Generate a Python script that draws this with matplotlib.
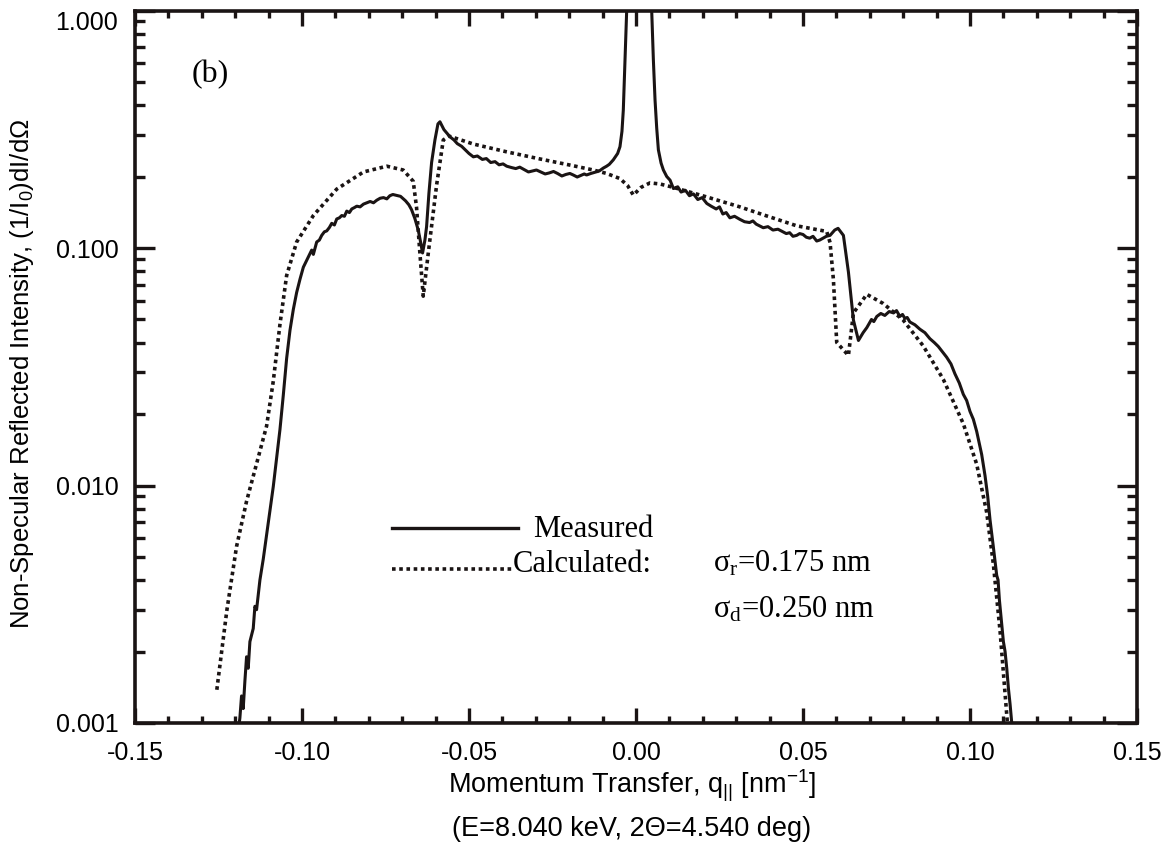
import matplotlib
matplotlib.use("Agg")
import matplotlib.pyplot as plt
from matplotlib.ticker import MultipleLocator, LogLocator, NullFormatter
from matplotlib.lines import Line2D

# measured non-specular intensity, (q, I) pairs
measured = [
    (-0.1192, 0.0009), (-0.1186, 0.00105), (-0.1181, 0.0013), (-0.1176, 0.00115), (-0.1171, 0.0015),
    (-0.1166, 0.0019), (-0.1161, 0.0017), (-0.1156, 0.0022), (-0.1146, 0.0025), (-0.1141, 0.0031),
    (-0.1136, 0.0030), (-0.1126, 0.0040), (-0.1116, 0.0049), (-0.1106, 0.0062), (-0.1096, 0.0078),
    (-0.1086, 0.0099), (-0.1076, 0.0130), (-0.1066, 0.0172), (-0.1056, 0.0240), (-0.1046, 0.0343),
    (-0.1036, 0.0450), (-0.1026, 0.0551), (-0.1016, 0.0650), (-0.1006, 0.0739), (-0.0996, 0.0830),
    (-0.0986, 0.0887), (-0.0976, 0.0950), (-0.0971, 0.0980), (-0.0966, 0.0940), (-0.0956, 0.106),
    (-0.0948, 0.108), (-0.0941, 0.113), (-0.0933, 0.117), (-0.0926, 0.118), (-0.0918, 0.122),
    (-0.0911, 0.127), (-0.0903, 0.125), (-0.0896, 0.1325), (-0.0888, 0.134), (-0.0881, 0.137),
    (-0.0873, 0.136), (-0.0866, 0.143), (-0.0858, 0.141), (-0.0851, 0.146), (-0.0843, 0.148),
    (-0.0836, 0.150), (-0.0826, 0.149), (-0.0816, 0.153), (-0.0806, 0.155), (-0.0796, 0.157),
    (-0.0786, 0.155), (-0.0776, 0.159), (-0.0766, 0.162), (-0.0756, 0.163), (-0.0746, 0.161),
    (-0.0737, 0.166), (-0.0728, 0.168), (-0.0720, 0.167), (-0.0705, 0.165), (-0.0690, 0.158),
    (-0.0680, 0.152), (-0.0672, 0.145), (-0.0662, 0.133), (-0.0652, 0.119), (-0.0645, 0.106),
    (-0.0639, 0.0953), (-0.0632, 0.108), (-0.0627, 0.123), (-0.0620, 0.170), (-0.0612, 0.229),
    (-0.0602, 0.285), (-0.0593, 0.333), (-0.0587, 0.340), (-0.0575, 0.315), (-0.0557, 0.294),
    (-0.0545, 0.285), (-0.0535, 0.275), (-0.0522, 0.268), (-0.0510, 0.258), (-0.0500, 0.250),
    (-0.0487, 0.242), (-0.0475, 0.244), (-0.0460, 0.236), (-0.0448, 0.238), (-0.0435, 0.229),
    (-0.0422, 0.231), (-0.0410, 0.224), (-0.0398, 0.226), (-0.0387, 0.221), (-0.0372, 0.218),
    (-0.0360, 0.216), (-0.0348, 0.219), (-0.0335, 0.214), (-0.0322, 0.209), (-0.0310, 0.211),
    (-0.0298, 0.213), (-0.0287, 0.2095), (-0.0272, 0.205), (-0.0260, 0.207), (-0.0247, 0.210),
    (-0.0235, 0.206), (-0.0222, 0.201), (-0.0210, 0.204), (-0.0198, 0.206), (-0.0188, 0.203),
    (-0.0176, 0.199), (-0.0165, 0.202), (-0.0155, 0.205), (-0.0148, 0.203), (-0.0135, 0.206),
    (-0.0125, 0.208), (-0.0110, 0.211), (-0.0098, 0.217), (-0.0088, 0.221), (-0.0080, 0.225),
    (-0.0068, 0.235), (-0.0055, 0.250), (-0.0048, 0.267), (-0.0042, 0.31), (-0.0038, 0.381),
    (-0.0033, 0.62), (-0.0028, 1.0), (-0.0020, 2.0), (0.0007, 5.0), (0.0035, 2.0),
    (0.0047, 1.0), (0.0052, 0.62), (0.0057, 0.42), (0.0062, 0.32), (0.0067, 0.259),
    (0.0075, 0.228), (0.0082, 0.213), (0.0092, 0.200), (0.0102, 0.193), (0.0112, 0.178),
    (0.0125, 0.181), (0.0135, 0.172), (0.0148, 0.175), (0.0160, 0.166), (0.0172, 0.169),
    (0.0185, 0.160), (0.0198, 0.163), (0.0212, 0.154), (0.0225, 0.150), (0.0240, 0.146),
    (0.0250, 0.149), (0.0260, 0.139), (0.0270, 0.141), (0.0281, 0.134), (0.0295, 0.136),
    (0.0311, 0.132), (0.0325, 0.129), (0.0340, 0.128), (0.0350, 0.130), (0.0360, 0.126),
    (0.0370, 0.124), (0.0381, 0.1217), (0.0395, 0.123), (0.0410, 0.119), (0.0425, 0.120),
    (0.0440, 0.117), (0.0450, 0.115), (0.0460, 0.116), (0.0470, 0.112), (0.0481, 0.113),
    (0.0490, 0.115), (0.0500, 0.114), (0.0510, 0.111), (0.0520, 0.110), (0.0530, 0.112),
    (0.0541, 0.107), (0.0550, 0.108), (0.0560, 0.110), (0.0570, 0.112), (0.0581, 0.113),
    (0.0595, 0.119), (0.0605, 0.121), (0.0621, 0.113), (0.0636, 0.0792), (0.0651, 0.0497),
    (0.0666, 0.0408), (0.0680, 0.0440), (0.0691, 0.0462), (0.0705, 0.0500), (0.0712, 0.0490),
    (0.0721, 0.0515), (0.0733, 0.0530), (0.0745, 0.0520), (0.0758, 0.0540), (0.0771, 0.0533),
    (0.0780, 0.0545), (0.0790, 0.0515), (0.0798, 0.0525), (0.0805, 0.0505), (0.0812, 0.0510),
    (0.0820, 0.0488), (0.0835, 0.0475), (0.0850, 0.0455), (0.0865, 0.0440), (0.0880, 0.0415),
    (0.0893, 0.0400), (0.0905, 0.0385), (0.0918, 0.0365), (0.0930, 0.0347), (0.0943, 0.0325),
    (0.0955, 0.0295), (0.0968, 0.0270), (0.0980, 0.0242), (0.0990, 0.0228), (0.1000, 0.0205),
    (0.1010, 0.0190), (0.1020, 0.0169), (0.1028, 0.0150), (0.1035, 0.0135), (0.1045, 0.0110),
    (0.1053, 0.0090), (0.1060, 0.00716), (0.1070, 0.0055), (0.1080, 0.00418), (0.1084, 0.0040),
    (0.1088, 0.0033), (0.1095, 0.00262), (0.1100, 0.0022), (0.1105, 0.0020), (0.1110, 0.0017),
    (0.1115, 0.0014), (0.1120, 0.0012), (0.1125, 0.0010), (0.1130, 0.0008),
]

# calculated curve (sigma_r = 0.175 nm, sigma_d = 0.250 nm)
calculated = [
    (-0.1255, 0.00138), (-0.1225, 0.00298), (-0.1196, 0.00553), (-0.1166, 0.00858), (-0.1136, 0.01235),
    (-0.1106, 0.0178), (-0.1086, 0.0275), (-0.1066, 0.0477), (-0.1046, 0.0766), (-0.1016, 0.106),
    (-0.0966, 0.137), (-0.0896, 0.177), (-0.0816, 0.209), (-0.0746, 0.221), (-0.0697, 0.213),
    (-0.0667, 0.191), (-0.0657, 0.148), (-0.0647, 0.095), (-0.0637, 0.0627), (-0.0622, 0.095),
    (-0.0597, 0.184), (-0.0577, 0.285), (-0.0560, 0.296), (-0.0547, 0.292), (-0.0487, 0.274),
    (-0.0387, 0.254), (-0.0287, 0.237), (-0.0188, 0.222), (-0.0128, 0.213), (-0.0088, 0.206),
    (-0.0048, 0.196), (-0.0025, 0.183), (-0.0008, 0.167), (0.0015, 0.180), (0.0042, 0.188),
    (0.0072, 0.186), (0.0112, 0.180), (0.0212, 0.164), (0.0311, 0.149), (0.0381, 0.138),
    (0.0481, 0.124), (0.0571, 0.1174), (0.0581, 0.1055), (0.0591, 0.0737), (0.0601, 0.040),
    (0.0636, 0.0353), (0.0651, 0.0533), (0.0691, 0.0638), (0.0740, 0.0584), (0.0800, 0.0497),
    (0.0860, 0.0387), (0.0920, 0.028), (0.0980, 0.0182), (0.1020, 0.0123), (0.1050, 0.0077),
    (0.1070, 0.00466), (0.1090, 0.00244), (0.1105, 0.00133), (0.1112, 0.00100),
]

xticks = [-0.15, -0.10, -0.05, 0.00, 0.05, 0.10, 0.15]
xticklabels = ["-0.15", "-0.10", "-0.05", "0.00", "0.05", "0.10", "0.15"]
yticks = [0.001, 0.01, 0.1, 1.0]
yticklabels = ["0.001", "0.010", "0.100", "1.000"]

plt.rcParams['font.family'] = ['Liberation Sans', 'DejaVu Sans']
plt.rcParams['mathtext.default'] = 'regular'
ink = '#1a1414'

W, H = 1172, 849
fig = plt.figure(figsize=(W / 100, H / 100), dpi=100)
ax = fig.add_axes([135 / W, 1 - 723 / H, 1002 / W, 712.5 / H])

q_m, i_m = zip(*measured)
q_c, i_c = zip(*calculated)
ax.plot(q_m, i_m, color=ink, lw=2.2)
ax.plot(q_c, i_c, color=ink, lw=2.6, linestyle=(0, (1, 1)))

ax.set_yscale('log')
ax.set_xlim(-0.15, 0.15)
ax.set_ylim(0.001, 1.0)

ax.set_xticks(xticks)
ax.set_xticklabels(xticklabels)
ax.xaxis.set_minor_locator(MultipleLocator(0.01))
ax.set_yticks(yticks)
ax.set_yticklabels(yticklabels)
ax.yaxis.set_minor_locator(LogLocator(base=10, subs=range(2, 10)))
ax.yaxis.set_minor_formatter(NullFormatter())
ax.get_yticklabels()[-1].set_verticalalignment('top')

for s in ax.spines.values():
    s.set_linewidth(2.6)
    s.set_color(ink)
ax.tick_params(which='both', direction='in', top=True, right=True, width=2.4, color=ink,
               labelsize=18)
ax.tick_params(axis='x', which='major', length=11, pad=13)
ax.tick_params(axis='x', which='minor', length=5)
ax.tick_params(axis='y', which='major', length=14.5, pad=12)
ax.tick_params(axis='y', which='minor', length=7)

ax.set_ylabel(r"Non-Specular Reflected Intensity, (1/I$_0$)dI/d$\Omega$", fontsize=18.5)
ax.yaxis.set_label_coords(-0.099, 0.49)

fig.text(632 / W, 1 - 793 / H, r"Momentum Transfer, q$_{||}$ [nm$^{-1}$]", fontsize=19.5,
         ha='center', va='baseline')
fig.text(632 / W, 1 - 836 / H, "(E=8.040 keV, 2\u0398=4.540 deg)", fontsize=19.5,
         ha='center', va='baseline')

fig.text(210 / W, 1 - 75 / H, "(b)", fontsize=23, family='Liberation Serif', ha='center', va='center')

# legend drawn by hand
fig.add_artist(Line2D([392 / W, 518 / W], [1 - 527.7 / H, 1 - 527.7 / H], color=ink, lw=2.4))
fig.add_artist(Line2D([392 / W, 512 / W], [1 - 569 / H, 1 - 569 / H], color=ink, lw=2.6,
                      linestyle=(0, (1, 1))))
serif = dict(fontsize=22, family='Liberation Serif', va='baseline', ha='left')
fig.text(533 / W, 1 - 537 / H, "Measured", **serif)
fig.text(513 / W, 1 - 572 / H, "Calculated:", **serif)
fig.text(713 / W, 1 - 572 / H, r"$\sigma_r$=0.175 nm", **serif)
fig.text(713 / W, 1 - 618 / H, r"$\sigma_d$=0.250 nm", **serif)

fig.savefig("out.png", dpi=100)
